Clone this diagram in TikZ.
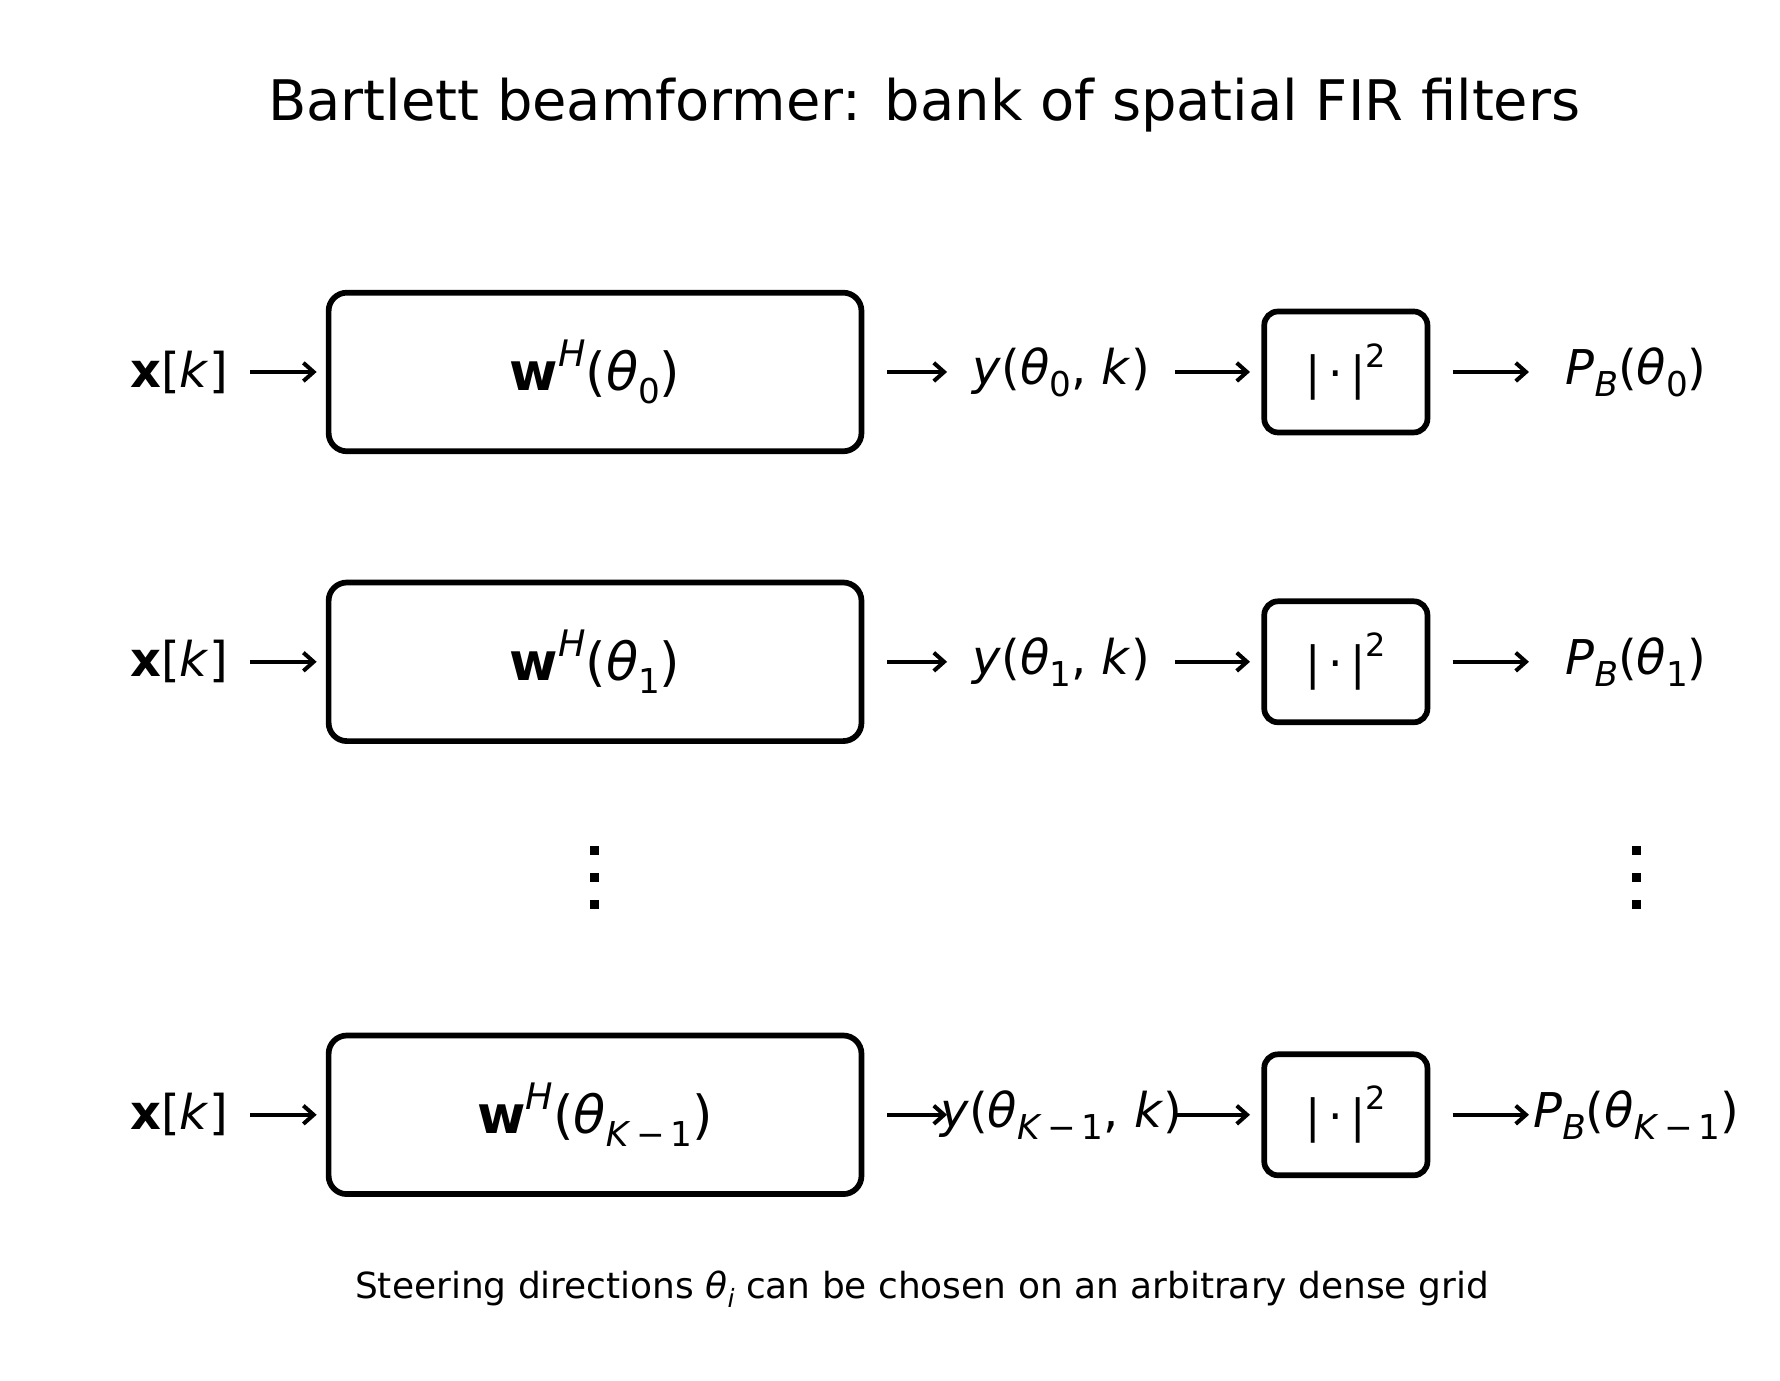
\documentclass[tikz,border=0pt]{standalone}
\usepackage{fontspec}
\setmainfont{DejaVu Sans}
\usetikzlibrary{positioning, arrows.meta}

\tikzset{
  block/.style={draw, line width=5pt, rounded corners=16pt, inner sep=0pt},
  sig/.style={font=\fontsize{42}{46}\selectfont, inner sep=0pt},
  flow/.style={-{Straight Barb[length=9pt, width=16pt, line width=3.5pt]}, line width=3.5pt},
}
\newcommand{\thsub}[1]{\textit{θ}\raisebox{-0.25em}{\fontsize{30}{32}\selectfont #1}}

\begin{document}
\begin{tikzpicture}[x=1pt, y=-1pt]
  \useasboundingbox (0,0) rectangle (1560,1210);
  \node[font=\fontsize{49}{56}\selectfont] (title) at (810,92) {Bartlett beamformer: bank of spatial FIR filters};

  \foreach \row/\yy/\idx in {a/326/0, b/580/1, c/977/\textit{K}\,−\,1} {
    \node[sig] (x\row) at (157,\yy) {\textbf{x}[\textit{k}]};
    \node[block, minimum width=467pt, minimum height=139pt, font=\fontsize{46}{50}\selectfont] (w\row) at (521.5,\yy)
      {\textbf{w}\raisebox{0.45em}{\fontsize{32}{34}\selectfont\textit{H}}(\thsub{\idx})};
    \node[sig] (y\row) at (930,\yy) {\textit{y}(\thsub{\idx}, \textit{k})};
    \node[block, minimum width=143pt, minimum height=106pt, rounded corners=12pt, font=\fontsize{40}{44}\selectfont] (m\row) at (1179.5,\yy)
      {|\,·\,|\raisebox{0.5em}{\fontsize{28}{30}\selectfont 2}};
    \node[sig] (p\row) at (1434,\yy) {\textit{P}\raisebox{-0.25em}{\fontsize{30}{32}\selectfont\textit{B}}(\thsub{\idx})};
    \coordinate (xo\row) at (219,\yy);
    \coordinate (yi\row) at (830,\yy);
    \coordinate (yo\row) at (1030,\yy);
    \coordinate (po\row) at (1273,\yy);
    \coordinate (pi\row) at (1340,\yy);
    \draw[flow] (xo\row) -- ([xshift=-8pt]w\row.west);
    \draw[flow] ([xshift=20pt]w\row.east) -- (yi\row);
    \draw[flow] (yo\row) -- ([xshift=-10pt]m\row.west);
    \draw[flow] (po\row) -- (pi\row);
  }

  % vertical ellipses
  \foreach \xx in {521,1434}
    \foreach \yy in {745,769,793}
      \fill (\xx-4,\yy-4) rectangle (\xx+4,\yy+4);

  \node[font=\fontsize{31.5}{36}\selectfont] (note) at (808,1130)
    {Steering directions \textit{θ}\raisebox{-0.25em}{\fontsize{22}{24}\selectfont\textit{i}} can be chosen on an arbitrary dense grid};
\end{tikzpicture}
\end{document}
